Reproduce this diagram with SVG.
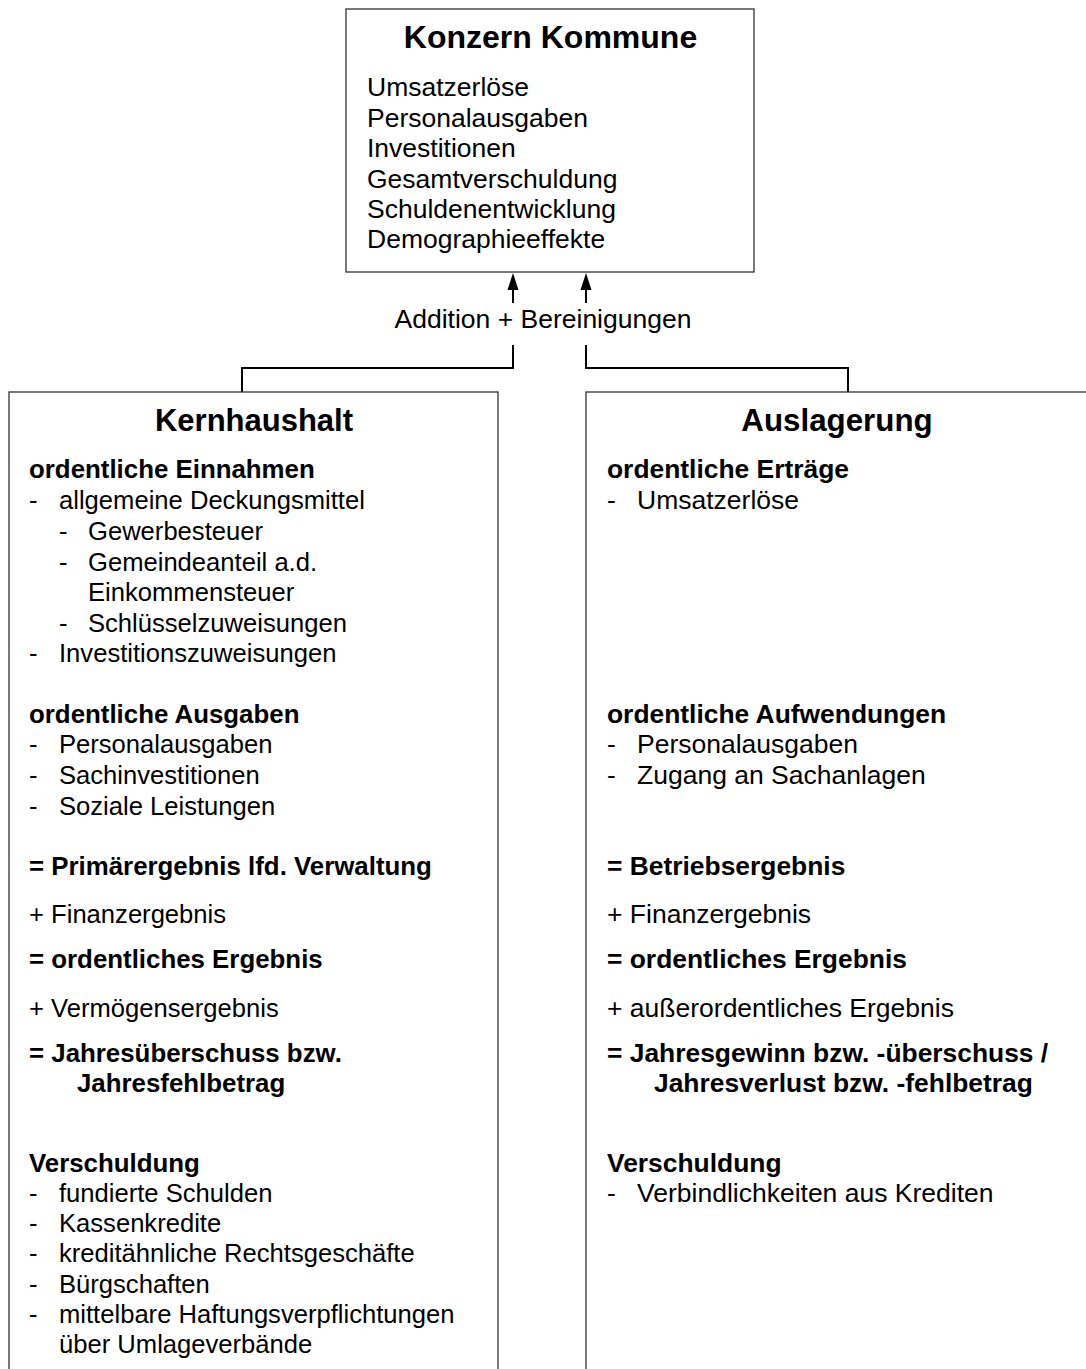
<svg xmlns="http://www.w3.org/2000/svg" width="1086" height="1369" viewBox="0 0 1086 1369">
<defs>
<style>
text{font-family:"Liberation Sans",Arial,Helvetica,sans-serif;fill:#000}
.t{font-size:31px;font-weight:bold;text-anchor:middle}
.b{font-size:26.4px;font-weight:bold}
.n{font-size:26.5px}
.bl{font-size:25.85px;font-weight:bold}
.nl{font-size:25.6px}
.box{fill:#fff;stroke:#333;stroke-width:1.3}
.con{fill:none;stroke:#000;stroke-width:2}
.ah{fill:#000}
</style>
</defs>
<rect width="1086" height="1369" fill="#fff"/>

<g id="connectors">
<line class="con" x1="513" y1="303" x2="513" y2="288"/>
<path class="ah" d="M507.5,290 L513,273 L518.5,290 Z"/>
<line class="con" x1="586" y1="303" x2="586" y2="288"/>
<path class="ah" d="M580.5,290 L586,273 L591.5,290 Z"/>
<text class="n" x="543" y="328" text-anchor="middle">Addition + Bereinigungen</text>
<path class="con" d="M513,345 V368 H242 V392"/>
<path class="con" d="M586,345 V368 H848 V392"/>
</g>

<g id="konzern">
<rect class="box" x="346" y="9" width="408" height="263"/>
<text class="t" x="550.5" y="48" style="font-size:32px">Konzern Kommune</text>
<text class="n" x="367" y="96">Umsatzerlöse</text>
<text class="n" x="367" y="127">Personalausgaben</text>
<text class="n" x="367" y="157">Investitionen</text>
<text class="n" x="367" y="188">Gesamtverschuldung</text>
<text class="n" x="367" y="218">Schuldenentwicklung</text>
<text class="n" x="367" y="248">Demographieeffekte</text>
</g>

<g id="kernhaushalt">
<rect class="box" x="9" y="392" width="489" height="990"/>
<text class="t" x="254" y="431">Kernhaushalt</text>
<text class="bl" x="29" y="478">ordentliche Einnahmen</text>
<text class="nl" x="29" y="509">-</text><text class="nl" x="59" y="509">allgemeine Deckungsmittel</text>
<text class="nl" x="59" y="540">-</text><text class="nl" x="88" y="540">Gewerbesteuer</text>
<text class="nl" x="59" y="571">-</text><text class="nl" x="88" y="571">Gemeindeanteil a.d.</text>
<text class="nl" x="88" y="601">Einkommensteuer</text>
<text class="nl" x="59" y="632">-</text><text class="nl" x="88" y="632">Schlüsselzuweisungen</text>
<text class="nl" x="29" y="662">-</text><text class="nl" x="59" y="662">Investitionszuweisungen</text>

<text class="bl" x="29" y="723">ordentliche Ausgaben</text>
<text class="nl" x="29" y="753">-</text><text class="nl" x="59" y="753">Personalausgaben</text>
<text class="nl" x="29" y="784">-</text><text class="nl" x="59" y="784">Sachinvestitionen</text>
<text class="nl" x="29" y="815">-</text><text class="nl" x="59" y="815">Soziale Leistungen</text>

<text class="bl" x="29" y="875">= Primärergebnis lfd. Verwaltung</text>
<text class="nl" x="29" y="923">+ Finanzergebnis</text>
<text class="bl" x="29" y="968">= ordentliches Ergebnis</text>
<text class="nl" x="29" y="1017">+ Vermögensergebnis</text>
<text class="bl" x="29" y="1062">= Jahresüberschuss bzw.</text>
<text class="bl" x="77" y="1092">Jahresfehlbetrag</text>

<text class="bl" x="29" y="1172">Verschuldung</text>
<text class="nl" x="29" y="1202">-</text><text class="nl" x="59" y="1202">fundierte Schulden</text>
<text class="nl" x="29" y="1232">-</text><text class="nl" x="59" y="1232">Kassenkredite</text>
<text class="nl" x="29" y="1262">-</text><text class="nl" x="59" y="1262">kreditähnliche Rechtsgeschäfte</text>
<text class="nl" x="29" y="1293">-</text><text class="nl" x="59" y="1293">Bürgschaften</text>
<text class="nl" x="29" y="1323">-</text><text class="nl" x="59" y="1323">mittelbare Haftungsverpflichtungen</text>
<text class="nl" x="59" y="1353">über Umlageverbände</text>
</g>

<g id="auslagerung">
<rect class="box" x="586" y="392" width="502" height="990"/>
<text class="t" x="837" y="431" style="font-size:31.3px">Auslagerung</text>
<text class="b" x="607" y="478">ordentliche Erträge</text>
<text class="n" x="607" y="509">-</text><text class="n" x="637" y="509">Umsatzerlöse</text>

<text class="b" x="607" y="723">ordentliche Aufwendungen</text>
<text class="n" x="607" y="753">-</text><text class="n" x="637" y="753">Personalausgaben</text>
<text class="n" x="607" y="784">-</text><text class="n" x="637" y="784">Zugang an Sachanlagen</text>

<text class="b" x="607" y="875">= Betriebsergebnis</text>
<text class="n" x="607" y="923">+ Finanzergebnis</text>
<text class="b" x="607" y="968">= ordentliches Ergebnis</text>
<text class="n" x="607" y="1017">+ außerordentliches Ergebnis</text>
<text class="b" x="607" y="1062">= Jahresgewinn bzw. -überschuss /</text>
<text class="b" x="654" y="1092">Jahresverlust bzw. -fehlbetrag</text>

<text class="b" x="607" y="1172">Verschuldung</text>
<text class="n" x="607" y="1202">-</text><text class="n" x="637" y="1202">Verbindlichkeiten aus Krediten</text>
</g>
</svg>
